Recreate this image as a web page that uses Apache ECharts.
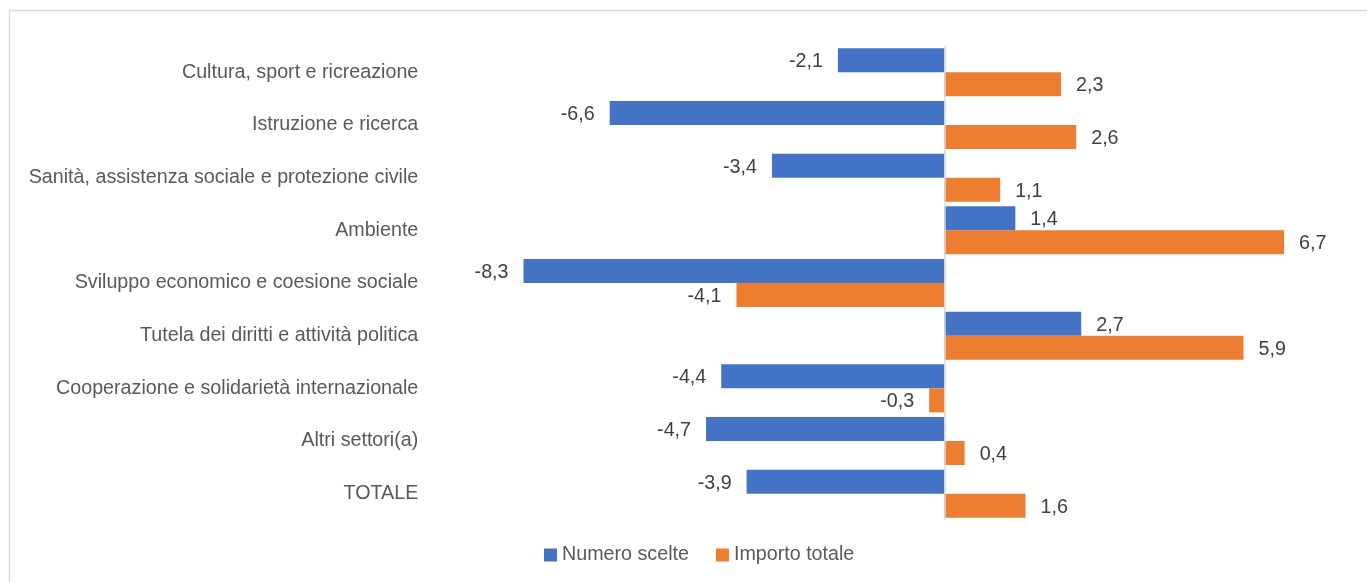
<!DOCTYPE html>
<html>
<head>
<meta charset="utf-8">
<script src="https://cdn.jsdelivr.net/npm/echarts@6/dist/echarts.min.js"></script>
<style>
html,body{margin:0;padding:0;background:#fff;}
#chart{width:1367px;height:582px;}
</style>
</head>
<body>
<div id="chart"></div>
<script>
const categories = [
  'Cultura, sport e ricreazione',
  'Istruzione e ricerca',
  'Sanità, assistenza sociale e protezione civile',
  'Ambiente',
  'Sviluppo economico e coesione sociale',
  'Tutela dei diritti e attività politica',
  'Cooperazione e solidarietà internazionale',
  'Altri settori(a)',
  'TOTALE'
];
const numeroScelte = [-2.1, -6.6, -3.4, 1.4, -8.3, 2.7, -4.4, -4.7, -3.9];
const importoTotale = [2.3, 2.6, 1.1, 6.7, -4.1, 5.9, -0.3, 0.4, 1.6];
const seriesNames = ['Numero scelte', 'Importo totale'];

const FONT = "'Liberation Sans', Arial, sans-serif";
const FS = 19.7;

function withLabels(values) {
  return values.map(v => ({
    value: v,
    label: { position: v < 0 ? 'left' : 'right' }
  }));
}

const chart = echarts.init(document.getElementById('chart'));
const labelCfg = {
  show: true,
  distance: 15,
  offset: [0, 1.5],
  color: '#404040',
  fontSize: FS,
  fontFamily: FONT,
  formatter: p => String(p.value).replace('.', ',')
};
chart.setOption({
  animation: false,
  backgroundColor: '#fff',
  graphic: [{
    type: 'rect',
    shape: { x: 9.5, y: 10.5, width: 1380, height: 600 },
    style: { fill: 'none', stroke: '#d9d9d9', lineWidth: 1.5 },
    silent: true
  }],
  grid: { left: 437.3, right: 17, top: 46, bottom: 62, containLabel: false, outerBoundsMode: 'none' },
  legend: {
    data: seriesNames,
    left: 539,
    top: 540,
    icon: 'rect',
    itemWidth: 13,
    itemHeight: 13,
    itemGap: 27,
    textStyle: { color: '#595959', fontSize: FS, fontFamily: FONT }
  },
  xAxis: {
    type: 'value',
    min: -10,
    max: 8,
    show: false
  },
  yAxis: {
    type: 'category',
    data: categories,
    inverse: true,
    axisLine: { show: false },
    axisTick: { show: false },
    axisLabel: { margin: 19, color: '#595959', fontSize: FS, fontFamily: FONT }
  },
  series: [
    {
      name: seriesNames[0],
      type: 'bar',
      data: withLabels(numeroScelte),
      barWidth: 24,
      barGap: '0%',
      itemStyle: { color: '#4472C4' },
      label: labelCfg,
      markLine: {
        silent: true,
        symbol: 'none',
        label: { show: false },
        lineStyle: { color: '#d9d9d9', width: 1.5, type: 'solid' },
        data: [{ xAxis: 0 }],
        z: 10
      }
    },
    {
      name: seriesNames[1],
      type: 'bar',
      data: withLabels(importoTotale),
      barWidth: 24,
      barGap: '0%',
      itemStyle: { color: '#ED7D31' },
      label: labelCfg
    }
  ]
});
</script>
</body>
</html>
